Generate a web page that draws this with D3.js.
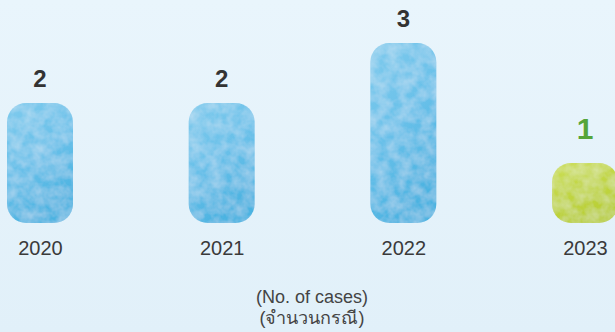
<!DOCTYPE html>
<html>
<head>
<meta charset="utf-8">
<script src="https://cdn.jsdelivr.net/npm/d3@7"></script>
<style>
  html, body { margin: 0; padding: 0; background: #e6f3fb; }
  svg { display: block; }
</style>
</head>
<body>
<div class="chart"></div>
<script>
var years = ["2020", "2021", "2022", "2023"]
var cases = [2, 2, 3, 1]
var highlightYear = "2023"
var unitLines = ["(No. of cases)", "(จำนวนกรณี)"]

var width = 615
var height = 332
var baseline = 223

var svg = d3.select(".chart").append("svg")
    .attr("width", width)
    .attr("height", height)

var defs = svg.append("defs")

// background wash
var bg = defs.append("linearGradient").attr("id", "bg")
    .attr("x1", 0).attr("y1", 0).attr("x2", 0).attr("y2", 1)
bg.append("stop").attr("offset", "0%").attr("stop-color", "#e9f5fc")
bg.append("stop").attr("offset", "100%").attr("stop-color", "#e1f0f9")

// bar gradients
var blue = defs.append("linearGradient").attr("id", "blue")
    .attr("x1", 0).attr("y1", 0).attr("x2", 0.4).attr("y2", 1)
blue.append("stop").attr("offset", "0%").attr("stop-color", "#80cbed")
blue.append("stop").attr("offset", "55%").attr("stop-color", "#68c0e9")
blue.append("stop").attr("offset", "100%").attr("stop-color", "#4cb3e1")

var green = defs.append("linearGradient").attr("id", "green")
    .attr("x1", 0).attr("y1", 0).attr("x2", 0.4).attr("y2", 1)
green.append("stop").attr("offset", "0%").attr("stop-color", "#cbde55")
green.append("stop").attr("offset", "100%").attr("stop-color", "#b8ce33")

// light watercolor grain
var tex = defs.append("filter").attr("id", "wc")
    .attr("x", 0).attr("y", 0).attr("width", 1).attr("height", 1)
tex.append("feTurbulence").attr("type", "fractalNoise")
    .attr("baseFrequency", 0.09).attr("numOctaves", 3).attr("seed", 7).attr("result", "noise")
tex.append("feColorMatrix").attr("in", "noise").attr("type", "matrix")
    .attr("values", "0 0 0 0 1  0 0 0 0 1  0 0 0 0 1  0.45 0 0 0 -0.12").attr("result", "spots")
tex.append("feComposite").attr("in", "spots").attr("in2", "SourceGraphic").attr("operator", "in").attr("result", "clipped")
var merge = tex.append("feMerge")
merge.append("feMergeNode").attr("in", "SourceGraphic")
merge.append("feMergeNode").attr("in", "clipped")

svg.append("rect")
    .attr("width", width)
    .attr("height", height)
    .attr("fill", "url(#bg)")

var xScale = d3.scalePoint().domain(years).range([40, 585])
var yScale = d3.scaleLinear().domain([0, 3]).range([baseline, 43])
var barW = 66

var data = years.map(function(y, i) { return { year: y, value: cases[i] } })

svg.selectAll("rect.bar")
    .data(data)
    .enter()
    .append("rect")
    .attr("class", "bar")
    .attr("x", function(d) { return xScale(d.year) - barW / 2 })
    .attr("y", function(d) { return yScale(d.value) })
    .attr("width", barW)
    .attr("height", function(d) { return baseline - yScale(d.value) })
    .attr("rx", 19)
    .attr("fill", function(d) { return d.year === highlightYear ? "url(#green)" : "url(#blue)" })
    .attr("filter", "url(#wc)")

svg.selectAll("text.value")
    .data(data)
    .enter()
    .append("text")
    .attr("class", "value")
    .attr("x", function(d) { return xScale(d.year) })
    .attr("y", function(d) { return yScale(d.value) - (d.year === highlightYear ? 24 : 16) })
    .attr("text-anchor", "middle")
    .style("font-family", "'Liberation Sans', Arial, sans-serif")
    .style("font-weight", "bold")
    .style("font-size", function(d) { return d.year === highlightYear ? "30px" : "24px" })
    .style("fill", function(d) { return d.year === highlightYear ? "#55a53a" : "#333333" })
    .text(function(d) { return d.value })

var xAxis = d3.axisBottom(xScale).tickSize(0).tickPadding(0)
svg.append("g")
    .attr("class", "x-axis")
    .attr("transform", "translate(0,255)")
    .call(xAxis)
    .call(function(g) { g.select(".domain").remove() })
    .selectAll("text")
    .attr("dy", 0)
    .style("font-family", "'Liberation Sans', Arial, sans-serif")
    .style("font-size", "20px")
    .style("fill", "#3a3a3a")

svg.selectAll("text.unit")
    .data(unitLines)
    .enter()
    .append("text")
    .attr("class", "unit")
    .attr("x", 312)
    .attr("y", function(_, i) { return 303 + i * 21 })
    .attr("text-anchor", "middle")
    .style("font-family", "'Liberation Sans', 'Noto Sans', sans-serif")
    .style("font-size", "18px")
    .style("fill", "#444444")
    .text(function(d) { return d })
</script>
</body>
</html>
